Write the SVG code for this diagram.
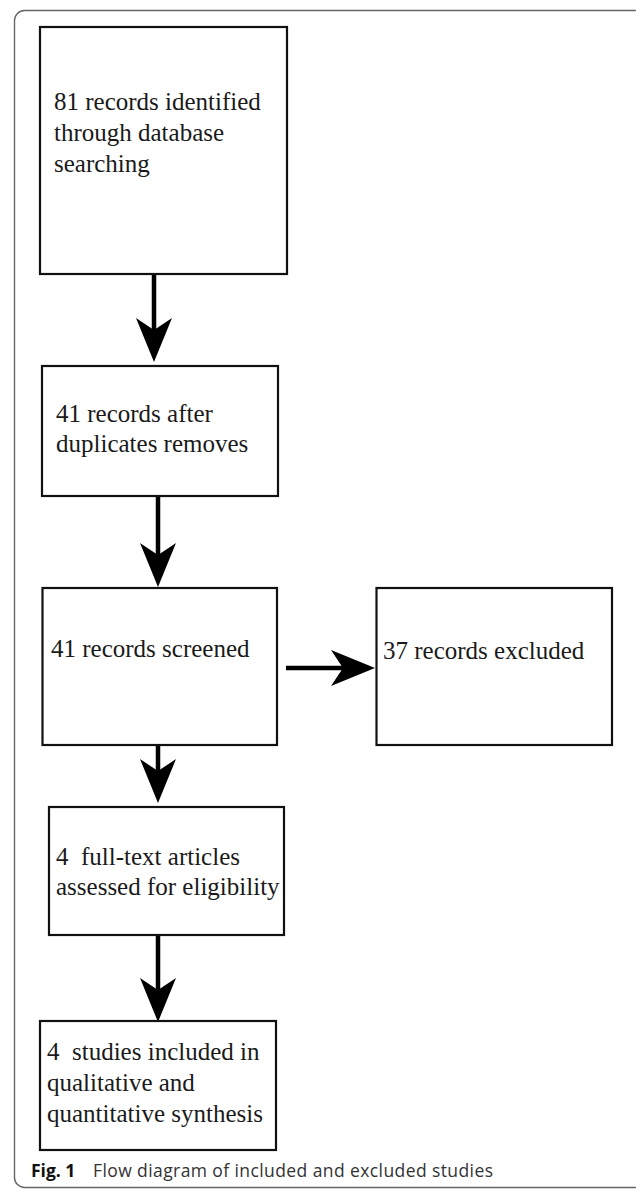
<svg xmlns="http://www.w3.org/2000/svg" width="636" height="1190" viewBox="0 0 636 1190">
<style>
.box{fill:#fff;stroke:#111;stroke-width:2.2}
.t{font-family:"Liberation Serif","Times New Roman",serif;font-size:25px;fill:#1a1a1a}
.conn{stroke:#000;stroke-width:4.5;fill:none}
.cap{font-family:"Open Sans","Noto Sans",sans-serif;font-size:17.5px;fill:#333}
.frame{fill:none;stroke:#666;stroke-width:1.4}
</style>
<defs>
<marker id="ah" markerUnits="userSpaceOnUse" markerWidth="46" markerHeight="40" refX="12" refY="18" orient="auto" viewBox="0 0 46 36">
<path d="M0,0 L44,18 L0,36 L12,18 Z" fill="#000"/>
</marker>
</defs>
<rect class="frame" x="14.5" y="10.5" width="630" height="1177" rx="10"/>
<g id="connectors">
<line class="conn" x1="154" y1="274" x2="154" y2="330" marker-end="url(#ah)"/>
<line class="conn" x1="158" y1="496" x2="158" y2="555" marker-end="url(#ah)"/>
<line class="conn" x1="158" y1="745" x2="158" y2="771" marker-end="url(#ah)"/>
<line class="conn" x1="286" y1="668" x2="343" y2="668" marker-end="url(#ah)"/>
<line class="conn" x1="158" y1="935" x2="158" y2="990" marker-end="url(#ah)"/>
</g>
<g id="n1">
<rect class="box" x="40" y="27" width="247" height="247"/>
<text class="t" x="54" y="110">81 records identified</text>
<text class="t" x="54" y="141">through database</text>
<text class="t" x="54" y="172">searching</text>
</g>
<g id="n2">
<rect class="box" x="42" y="366" width="236" height="130"/>
<text class="t" x="56" y="422">41 records after</text>
<text class="t" x="56" y="452">duplicates removes</text>
</g>
<g id="n3">
<rect class="box" x="42.5" y="588" width="234.5" height="157"/>
<text class="t" x="51" y="657">41 records screened</text>
</g>
<g id="n4">
<rect class="box" x="376.5" y="588" width="235.5" height="157"/>
<text class="t" x="383" y="659">37 records excluded</text>
</g>
<g id="n5">
<rect class="box" x="49" y="807" width="235" height="128"/>
<text class="t" x="56" y="865" xml:space="preserve">4  full-text articles</text>
<text class="t" x="56" y="895">assessed for eligibility</text>
</g>
<g id="n6">
<rect class="box" x="40" y="1021" width="236" height="129"/>
<text class="t" x="47" y="1060" xml:space="preserve">4  studies included in</text>
<text class="t" x="47" y="1091">qualitative and</text>
<text class="t" x="47" y="1122">quantitative synthesis</text>
</g>
<g id="caption">
<text class="cap" x="31" y="1177"><tspan font-weight="bold" fill="#111">Fig. 1</tspan><tspan x="93" textLength="400" lengthAdjust="spacing">Flow diagram of included and excluded studies</tspan></text>
</g>
</svg>
